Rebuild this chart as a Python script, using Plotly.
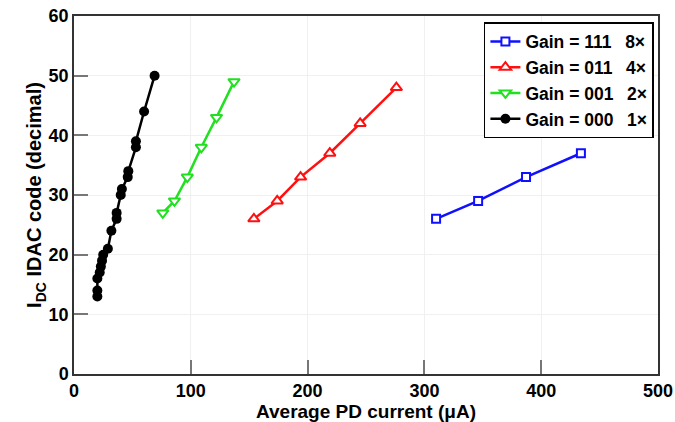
import plotly.graph_objects as go

# Data
x_111 = [310, 346, 387, 434]
y_111 = [26, 29, 33, 37]

x_011 = [154, 174, 194, 219, 245, 276]
y_011 = [26, 29, 33, 37, 42, 48]

x_001 = [76, 86, 97, 109, 122, 137]
y_001 = [27, 29, 33, 38, 43, 49]

x_000 = [20, 20, 20, 22, 23, 24, 25, 29, 32, 36.5, 36.5, 40, 41, 46, 46.5, 53, 53, 60, 69]
y_000 = [13, 14, 16, 17, 18, 19, 20, 21, 24, 26, 27, 30, 31, 33, 34, 38, 39, 44, 50]

names = ["Gain = 111\u2002 8\u00d7", "Gain = 011\u2002 4\u00d7",
         "Gain = 001\u2002 2\u00d7", "Gain = 000\u2002 1\u00d7"]

x_ticks = [0, 100, 200, 300, 400, 500]
y_ticks = [0, 10, 20, 30, 40, 50, 60]

FONT = "Liberation Sans, Arial, sans-serif"

fig = go.Figure()
fig.add_trace(go.Scatter(x=x_111, y=y_111, mode="lines+markers", name=names[0],
                         line=dict(color="#1010ff", width=2.5),
                         marker=dict(symbol="square", size=8, color="white",
                                     line=dict(color="#1010ff", width=2))))
fig.add_trace(go.Scatter(x=x_011, y=y_011, mode="lines+markers", name=names[1],
                         line=dict(color="#ff1010", width=2.5),
                         marker=dict(symbol="triangle-up", size=10, color="white",
                                     line=dict(color="#ff1010", width=2))))
fig.add_trace(go.Scatter(x=x_001, y=y_001, mode="lines+markers", name=names[2],
                         line=dict(color="#20e020", width=2.5),
                         marker=dict(symbol="triangle-down", size=10, color="white",
                                     line=dict(color="#20e020", width=2))))
fig.add_trace(go.Scatter(x=x_000, y=y_000, mode="lines+markers", name=names[3],
                         line=dict(color="black", width=2.5),
                         marker=dict(symbol="circle", size=10, color="black")))

axis_common = dict(
    showline=True, linecolor="#333333", linewidth=1.5, mirror=True,
    ticks="inside", ticklen=14, tickcolor="#777777", tickwidth=1.5,
    showgrid=True, gridcolor="#f0f0f0", gridwidth=1,
    zeroline=False, automargin=False,
    tickfont=dict(family=FONT, size=18, color="black", weight="bold"),
)

fig.update_layout(
    width=675, height=422,
    margin=dict(l=74, r=17, t=16, b=48),
    paper_bgcolor="white", plot_bgcolor="white",
    font=dict(family=FONT, color="black"),
    xaxis=dict(range=[0, 500], tickvals=x_ticks,
               title=dict(text="<b>Average PD current (\u03bcA)</b>",
                          font=dict(family=FONT, size=19), standoff=0),
               **axis_common),
    yaxis=dict(range=[0, 60], tickvals=y_ticks,
               title=dict(text="<b>I<sub>DC</sub> IDAC code (decimal)</b>",
                          font=dict(family=FONT, size=20), standoff=0),
               **axis_common),
    legend=dict(x=0.993, y=0.983, xanchor="right", yanchor="top",
                bgcolor="white", bordercolor="black", borderwidth=1.5,
                font=dict(family=FONT, size=17.5, color="black", weight="bold"),
                tracegroupgap=0, itemwidth=30),
    showlegend=True,
)

# remove the default page margin so the figure sits at the window's corner
fig.write_html("out.html", config={"displayModeBar": False},
               post_script="document.body.style.margin='0';")
